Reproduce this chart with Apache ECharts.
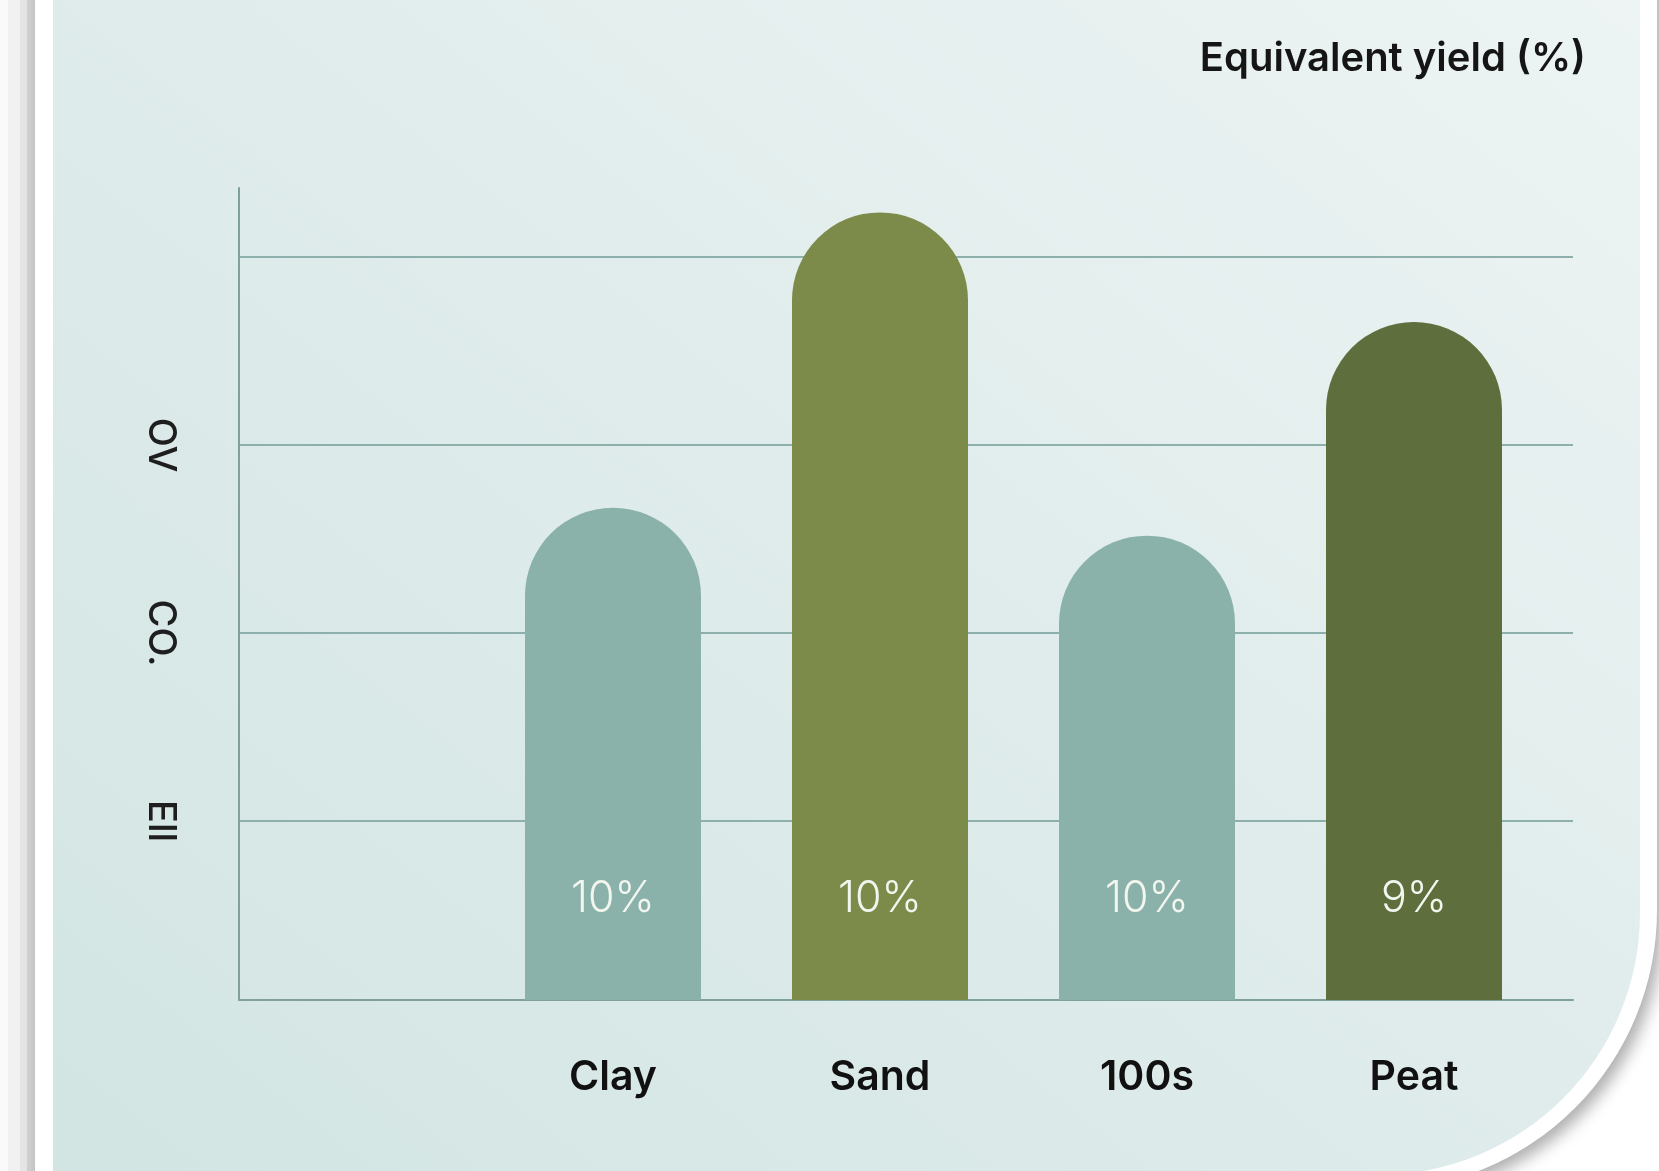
<!DOCTYPE html>
<html>
<head>
<meta charset="utf-8">
<script src="https://cdn.jsdelivr.net/npm/echarts@6/dist/echarts.min.js"></script>
<style>
  html, body { margin: 0; padding: 0; width: 1659px; height: 1171px; overflow: hidden; background: #ffffff; }
  .strip { position: absolute; top: 0; height: 1171px; }
  .frame { position: absolute; left: 35px; top: -60px; width: 1622px; height: 1250px; background: #ffffff;
           border-bottom-right-radius: 280px; box-shadow: 6px 7px 16px rgba(0,0,0,0.32); }
  .panel { position: absolute; left: 53px; top: -60px; width: 1587px; height: 1235px;
           border-bottom-right-radius: 262px;
           background: linear-gradient(to top right, #d2e5e3 0%, #dfeceb 50%, #eef4f4 100%); }
  #chart { position: absolute; left: 0; top: 0; width: 1659px; height: 1171px; }
</style>
</head>
<body>
<div class="strip" style="left:0;width:8px;background:#fafafa"></div>
<div class="strip" style="left:8px;width:12px;background:#f1f1f1"></div>
<div class="strip" style="left:20px;width:7px;background:#e5e5e5"></div>
<div class="strip" style="left:27px;width:8px;background:#d2d2d2"></div>
<div class="frame"></div>
<div class="panel"></div>
<div id="chart"></div>
<script>
// ---- data ----
var categories = ['Clay', 'Sand', '100s', 'Peat'];
var values = [2.65, 4.24, 2.5, 3.65];
var barLabels = ['10%', '10%', '10%', '9%'];
var barColors = ['#8ab2aa', '#7c8a4a', '#8ab2aa', '#5e6e3d'];
var yTicks = [1, 2, 3, 4];
var yTickLabels = { 1: 'Ell', 2: 'CO.', 3: 'OV', 4: '' };
var titleText = 'Equivalent yield (%)';

var FONT = 'Inter, "Noto Sans", sans-serif';
var chart = echarts.init(document.getElementById('chart'), null, { renderer: 'canvas' });

var seriesData = values.map(function (v, i) {
  return { value: v, itemStyle: { color: barColors[i] }, label: { formatter: barLabels[i] } };
});

var axisColor = '#7fa09d';

chart.setOption({
  animation: false,
  backgroundColor: 'transparent',
  title: {
    text: titleText,
    right: 68,
    top: 34,
    textStyle: { fontFamily: FONT, fontSize: 40, fontWeight: 600, color: '#151515' }
  },
  grid: [
    // gridlines grid
    { left: 239, right: 86, top: 257, bottom: 350 },
    // bars grid
    { left: 479.5, right: 111.5, top: 188, bottom: 171 },
    // frame (axis lines) grid
    { left: 239, right: 86, top: 188, bottom: 171 }
  ],
  xAxis: [
    {
      gridIndex: 0, type: 'value', min: 0, max: 1,
      axisLine: { show: false }, axisTick: { show: false }, axisLabel: { show: false }, splitLine: { show: false }
    },
    {
      gridIndex: 1, type: 'category', data: categories,
      axisLine: { show: false }, axisTick: { show: false },
      axisLabel: { margin: 57, fontFamily: FONT, fontSize: 41, fontWeight: 600, color: '#111111' }
    },
    {
      gridIndex: 2, type: 'value', min: 0, max: 1,
      axisLine: { show: true, lineStyle: { color: axisColor, width: 2 } },
      axisTick: { show: false }, axisLabel: { show: false }, splitLine: { show: false }
    }
  ],
  yAxis: [
    {
      gridIndex: 0, type: 'value', min: yTicks[0], max: yTicks[yTicks.length - 1], interval: 1,
      axisLine: { show: false },
      axisTick: { show: false },
      splitLine: { show: true, lineStyle: { color: '#8eb0ad', width: 2 } },
      axisLabel: {
        show: true, rotate: -90, margin: 60, align: 'center', verticalAlign: 'top',
        fontFamily: FONT, fontSize: 38, fontWeight: 500, color: '#1e1e1e',
        formatter: function (v) { return yTickLabels[v] || ''; }
      }
    },
    {
      gridIndex: 1, type: 'value', min: 0, max: 4.3715,
      axisLine: { show: false }, axisTick: { show: false }, axisLabel: { show: false }, splitLine: { show: false }
    },
    {
      gridIndex: 2, type: 'value', min: 0, max: 1,
      axisLine: { show: true, lineStyle: { color: axisColor, width: 2 } },
      axisTick: { show: false }, axisLabel: { show: false }, splitLine: { show: false }
    }
  ],
  series: [
    {
      type: 'bar',
      xAxisIndex: 1, yAxisIndex: 1,
      barWidth: 176,
      data: seriesData,
      itemStyle: { borderRadius: [88, 88, 0, 0] },
      label: {
        show: true, position: 'insideBottom', distance: 79,
        fontFamily: FONT, fontSize: 43, fontWeight: 300, color: '#f2f6ee'
      }
    }
  ]
});
</script>
</body>
</html>
